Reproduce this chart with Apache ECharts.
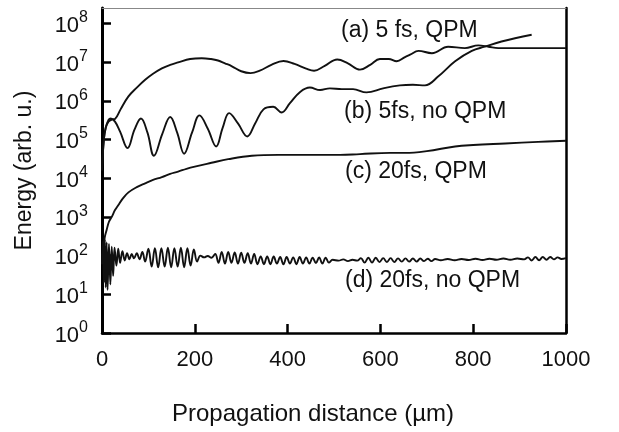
<!DOCTYPE html>
<html>
<head>
<meta charset="utf-8">
<script src="https://cdn.jsdelivr.net/npm/echarts@6/dist/echarts.min.js"></script>
<style>html,body{margin:0;padding:0;background:#fff}#c{width:619px;height:432px}</style>
</head>
<body>
<div id="c"></div>
<script>
// x ticks and y decade ticks
const xTicks = [0, 200, 400, 600, 800, 1000];
const yTicks = [1, 1e1, 1e2, 1e3, 1e4, 1e5, 1e6, 1e7, 1e8];
const labels = ['(a) 5 fs, QPM', '(b) 5fs, no QPM', '(c) 20fs, QPM', '(d) 20fs, no QPM'];

// (a) 5 fs, QPM
const seriesA = [[0,1.6e4],[4,1.0e5],[8,2.0e5],[14,2.9e5],[22,3.3e5],[28,3.4e5],[40,6.0e5],[57,1.3e6],[75,2.2e6],[93,3.5e6],[110,5.0e6],[129,6.9e6],[147,8.5e6],[164,9.8e6],[190,1.2e7],[215,1.26e7],[235,1.2e7],[250,1.1e7],[265,9.3e6],[280,7.8e6],[300,5.8e6],[320,5.2e6],[340,6.0e6],[365,8.5e6],[391,1.07e7],[415,9.0e6],[440,6.8e6],[457,6.0e6],[480,8.0e6],[507,1.17e7],[530,9.3e6],[556,6.4e6],[578,8.5e6],[599,1.2e7],[618,1.2e7],[635,1.05e7],[653,1.35e7],[664,1.55e7],[682,1.95e7],[711,1.7e7],[746,2.5e7],[782,2.3e7],[811,2.7e7],[833,2.5e7],[854,2.3e7],[1000,2.3e7]];

// (b) 5fs, no QPM
const seriesB = [[0,1.6e4],[4,1.0e5],[8,2.0e5],[14,3.2e5],[19,3.5e5],[28,2.9e5],[39,1.6e5],[55,6.0e4],[70,1.8e5],[84,3.5e5],[98,1.5e5],[112,3.8e4],[130,1.4e5],[147,3.8e5],[162,1.5e5],[177,4.3e4],[194,1.5e5],[210,4.2e5],[228,1.9e5],[246,6.6e4],[260,2.0e5],[274,4.8e5],[293,2.6e5],[313,1.2e5],[330,2.6e5],[348,6.0e5],[369,7.0e5],[387,5.0e5],[405,8.7e5],[427,1.7e6],[448,2.2e6],[470,1.9e6],[491,2.1e6],[517,2.0e6],[541,2.0e6],[570,1.65e6],[606,2.1e6],[642,2.5e6],[670,2.6e6],[696,2.5e6],[725,4.3e6],[761,1.05e7],[797,1.95e7],[825,2.5e7],[861,3.4e7],[926,5.1e7]];

// (c) 20fs, QPM
const seriesC = [[1,100],[3,150],[6,300],[10,460],[15,750],[21,1.0e3],[28,1.5e3],[35,2.0e3],[45,3.0e3],[57,4.3e3],[75,5.9e3],[93,7.4e3],[110,9.0e3],[129,1.07e4],[147,1.3e4],[164,1.48e4],[182,1.75e4],[200,2.0e4],[236,2.5e4],[272,3.1e4],[323,3.8e4],[380,4.0e4],[450,4.0e4],[513,4.0e4],[556,4.2e4],[621,4.5e4],[653,4.5e4],[700,5.0e4],[761,6.6e4],[800,7.2e4],[869,7.9e4],[940,8.7e4],[1000,9.3e4]];

// (d) 20fs, no QPM
const seriesD = [[0,60],[2,230],[4,20],[6,260],[8,15],[10,220],[12,13],[15,200],[18,18],[21,170],[24,30],[27,160],[31,55],[35,150],[39,65],[44,130],[49,75],[54,115],[59,80],[64,110],[69,85],[75,115],[81,80],[87,125],[93,70],
[100,150],[107,52],[114,155],[121,50],[128,155],[135,52],[142,160],[149,50],[156,155],[163,52],[170,160],[177,50],[184,155],[191,55],[198,145],[205,70],
[212,100],[220,90],[228,98],[236,88],[244,110],
[251,65],[258,125],[265,62],[272,125],[279,65],[286,120],[293,62],[300,118],[307,65],[314,115],[321,62],[328,110],
[335,60],[342,95],[349,60],[356,95],[363,60],[370,95],[377,62],[384,92],[391,60],[398,92],[405,62],[412,90],[419,60],[426,92],[433,62],[440,90],[447,62],[454,88],[461,64],[468,90],[475,62],[482,88],[489,66],
[497,78],[510,74],[520,80],[530,72],[540,78],[550,74],
[558,86],[566,66],[574,88],[582,66],[590,88],[598,68],[606,86],[614,68],[622,86],[630,68],[638,85],[646,70],[654,85],[662,70],[670,84],[678,70],[686,84],[694,72],[702,83],[710,72],[718,82],
[730,76],[745,82],[760,76],[775,82],[790,77],[805,83],[820,77],[835,83],[850,78],[865,84],[880,78],[895,84],[910,80],
[918,90],[926,75],[934,92],[942,76],[950,92],[958,78],[966,92],[974,80],[982,90],[990,82],[1000,86]];

const FONT = 'Liberation Sans, Arial, Helvetica, sans-serif';
const chart = echarts.init(document.getElementById('c'), null, {renderer: 'canvas'});

function lineSeries(data) {
  return {
    type: 'line', data: data, showSymbol: false, smooth: 0.4, silent: true,
    lineStyle: {color: '#111', width: 1.9}, xAxisIndex: 0, yAxisIndex: 0
  };
}

chart.setOption({
  animation: false,
  backgroundColor: '#fff',
  grid: {left: 102, right: 53, top: 8, bottom: 99, show: false},
  xAxis: [{
    type: 'value', min: 0, max: 1000, interval: 200, position: 'bottom',
    name: 'Propagation distance (µm)', nameLocation: 'middle', nameGap: 69,
    nameTextStyle: {fontFamily: FONT, fontSize: 24, color: '#111', padding: [0, 42, 0, 0]},
    axisLine: {show: true, onZero: false, lineStyle: {color: '#000', width: 2.5}},
    axisTick: {show: true, inside: true, length: 9, lineStyle: {color: '#000', width: 2.5}, customValues: xTicks},
    axisLabel: {margin: 16, fontFamily: FONT, fontSize: 22, color: '#111', customValues: xTicks,
      formatter: function (v) { return String(v); }},
    splitLine: {show: false}
  }, {
    type: 'value', min: 0, max: 1, position: 'top',
    axisLine: {show: true, onZero: false, lineStyle: {color: '#888', width: 1}},
    axisTick: {show: false}, axisLabel: {show: false}, splitLine: {show: false}
  }],
  yAxis: [{
    type: 'log', logBase: 10, min: 1, max: 2.5e8, position: 'left',
    name: 'Energy (arb. u.)', nameLocation: 'middle', nameGap: 66, nameRotate: 90,
    nameTextStyle: {fontFamily: FONT, fontSize: 23, color: '#111'},
    axisLine: {show: true, onZero: false, lineStyle: {color: '#000', width: 3}},
    axisTick: {show: true, inside: true, length: 9, lineStyle: {color: '#000', width: 2.5}, customValues: yTicks},
    axisLabel: {
      margin: 14, customValues: yTicks,
      formatter: function (v) { return '{b|10}{s|' + Math.round(Math.log10(v)) + '}'; },
      rich: {
        b: {fontFamily: FONT, fontSize: 22, color: '#111', lineHeight: 27, verticalAlign: 'bottom'},
        s: {fontFamily: FONT, fontSize: 16, color: '#111', lineHeight: 16, verticalAlign: 'top'}
      }
    },
    splitLine: {show: false}
  }, {
    type: 'value', min: 0, max: 1, position: 'right',
    axisLine: {show: true, onZero: false, lineStyle: {color: '#000', width: 2.5}},
    axisTick: {show: false}, axisLabel: {show: false}, splitLine: {show: false}
  }],
  graphic: [
    {type: 'text', left: 341, top: 19, style: {text: labels[0], font: '23px ' + FONT, fill: '#111'}},
    {type: 'text', left: 344, top: 100, style: {text: labels[1], font: '23px ' + FONT, fill: '#111'}},
    {type: 'text', left: 345, top: 160, style: {text: labels[2], font: '23px ' + FONT, fill: '#111'}},
    {type: 'text', left: 345, top: 269, style: {text: labels[3], font: '23px ' + FONT, fill: '#111'}}
  ],
  series: [lineSeries(seriesA), lineSeries(seriesB), lineSeries(seriesC), lineSeries(seriesD)]
});
</script>
</body>
</html>
